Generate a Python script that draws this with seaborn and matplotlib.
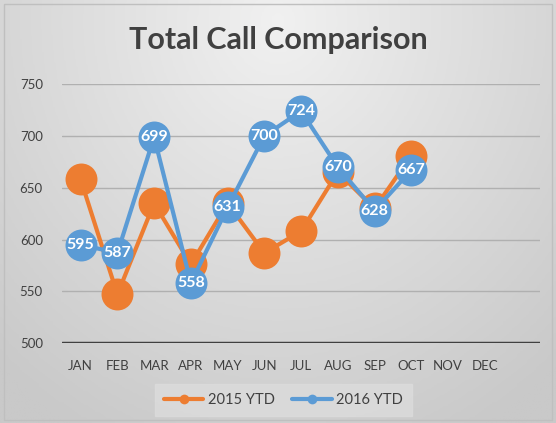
import numpy as np
import pandas as pd
import matplotlib.pyplot as plt
import seaborn as sns

months = ["JAN", "FEB", "MAR", "APR", "MAY", "JUN", "JUL", "AUG", "SEP", "OCT", "NOV", "DEC"]
calls_2015 = [658, 547, 635, 576, 635, 587, 608, 665, 630, 681]
calls_2016 = [595, 587, 699, 558, 631, 700, 724, 670, 628, 667]

df = pd.concat([
    pd.DataFrame({"pos": range(len(calls_2015)), "calls": calls_2015, "series": "2015 YTD"}),
    pd.DataFrame({"pos": range(len(calls_2016)), "calls": calls_2016, "series": "2016 YTD"}),
])

sns.set_style("white")
plt.rcParams['font.family'] = ['Lato', 'DejaVu Sans']

fig = plt.figure(figsize=(5.56, 4.23), dpi=100)

# soft radial background like the office chart
bg = fig.add_axes([0, 0, 1, 1], zorder=-5)
yy, xx = np.mgrid[0:1:200j, 0:1:200j]
r = np.sqrt(((xx - 0.5) / 0.75) ** 2 + ((yy - 0.05) / 1.1) ** 2)
bg.imshow(np.clip(r, 0, 1), cmap=sns.light_palette("#c9c9c9", as_cmap=True), vmin=0, vmax=1,
          extent=[0, 1, 0, 1], aspect="auto", origin="upper")
bg.add_patch(plt.Rectangle((0.008, 0.008), 0.984, 0.982, fill=False, ec="#bfbfbf", lw=1))
bg.set_axis_off()

ax = fig.add_axes([0.112, 0.189, 0.859, 0.612])
ax.patch.set_alpha(0)
palette = {"2015 YTD": "#ED7D31", "2016 YTD": "#5B9BD5"}
sns.lineplot(data=df, x="pos", y="calls", hue="series", palette=palette, marker="o",
             markersize=23, linewidth=3, markeredgewidth=0, ax=ax, legend=True)
for line in ax.lines:
    line.set_clip_on(False)

for x, v in enumerate(calls_2016):
    ax.text(x, v, str(v), color="white", fontsize=11.5, fontweight="bold",
            ha="center", va="center", zorder=10)

ax.set_xlim(-0.5, 12.5)
ax.set_ylim(500, 750)
ax.set_xticks(range(len(months)))
ax.set_xticklabels(months)
ax.set_yticks([500, 550, 600, 650, 700, 750])
ax.tick_params(axis="both", length=0, labelsize=9.5, colors="#404040")
ax.tick_params(axis="x", pad=12)
ax.tick_params(axis="y", pad=14)
ax.set_xlabel("")
ax.set_ylabel("")
ax.grid(axis="y", color="#b0b0b0", lw=1)
ax.axhline(500, color="#404040", lw=2.5, zorder=3)
sns.despine(ax=ax, left=True, bottom=True)

handles, labels = ax.get_legend_handles_labels()
for h in handles:
    h.set_markersize(7)
ax.legend(handles, labels, loc="center", bbox_to_anchor=(0.51, 0.054),
          bbox_transform=fig.transFigure, ncol=2, frameon=True, fancybox=False,
          facecolor="#dcdcdc", edgecolor="#dcdcdc", fontsize=10.5, handlelength=2.7,
          handletextpad=0.3, columnspacing=1.2, borderpad=0.6, labelcolor="#404040")

fig.text(0.5, 0.905, "Total Call Comparison", ha="center", va="center",
         fontsize=22, fontweight="bold", color="#404040")

fig.savefig("out.png", dpi=100)
